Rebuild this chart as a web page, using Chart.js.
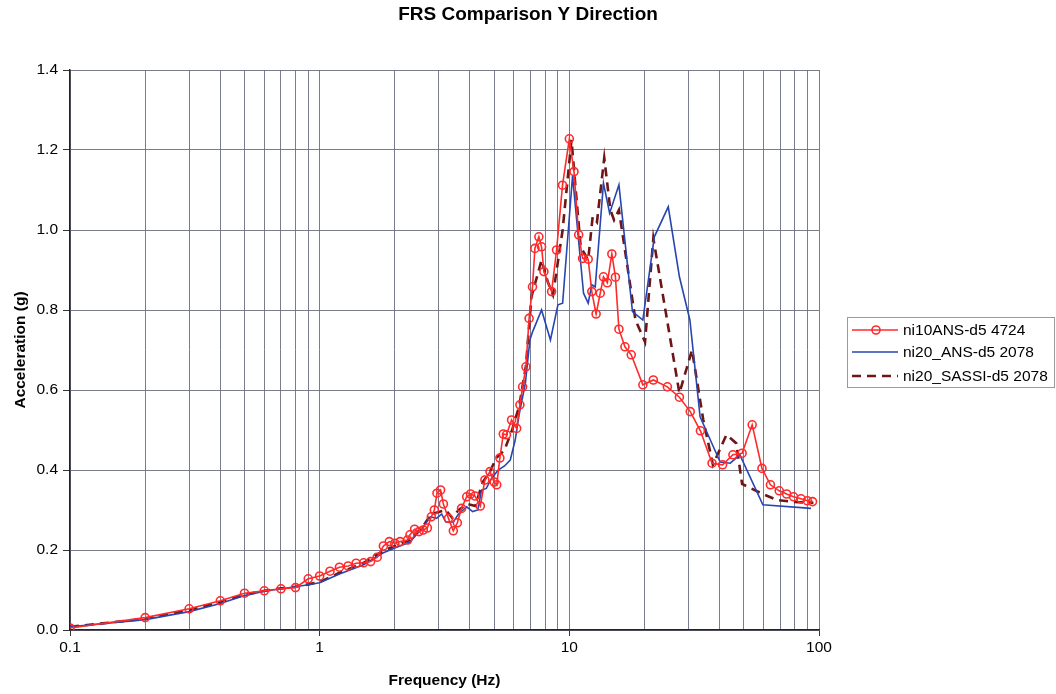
<!DOCTYPE html>
<html>
<head>
<meta charset="utf-8">
<script src="https://cdn.jsdelivr.net/npm/chart.js@4.4.1/dist/chart.umd.min.js"></script>
<style>
  html, body { margin: 0; padding: 0; background: #ffffff; }
  #wrap { width: 1056px; height: 694px; }
</style>
</head>
<body>
<div id="wrap"><canvas id="frs" width="1056" height="694"></canvas></div>
<script>
// Floor response spectra, Y direction: frequency (Hz) vs spectral acceleration (g)
const titleText = 'FRS Comparison Y Direction';
const seriesNames = ['ni10ANS-d5 4724', 'ni20_ANS-d5 2078', 'ni20_SASSI-d5 2078'];

const xTickLabels = ['0.1', '1', '10', '100'];
const yTickLabels = ['0.0', '0.2', '0.4', '0.6', '0.8', '1.0', '1.2', '1.4'];

const ansFreq = [0.1, 0.2, 0.3, 0.4, 0.5, 0.6, 0.7, 0.8, 0.9, 1.0, 1.1, 1.2, 1.3, 1.4, 1.5, 1.6, 1.7, 1.8, 1.9, 2.0,
  2.1, 2.25, 2.3, 2.4, 2.5, 2.6, 2.7, 2.8, 2.88, 2.95, 3.05, 3.13, 3.28, 3.43, 3.56, 3.7, 3.88, 4.02, 4.19, 4.4,
  4.59, 4.81, 5.0, 5.12, 5.27, 5.44, 5.6, 5.87, 6.15, 6.34, 6.5, 6.7, 6.9, 7.12, 7.28, 7.55, 7.74, 7.91, 8.49, 8.89,
  9.39, 10.0, 10.44, 10.9, 11.3, 11.9, 12.3, 12.8, 13.3, 13.7, 14.2, 14.8, 15.3, 15.8, 16.7, 17.7, 19.7, 21.7, 24.7, 27.6,
  30.5, 33.5, 37.3, 41.1, 45.2, 49.2, 54.0, 59.1, 63.9, 69.3, 74.2, 79.1, 84.7, 89.8, 94.2];
const ansAcc = [0.005, 0.031, 0.053, 0.073, 0.092, 0.098, 0.103, 0.106, 0.128, 0.135, 0.147, 0.157, 0.160, 0.167, 0.168, 0.171, 0.182, 0.210, 0.221, 0.217,
  0.221, 0.225, 0.238, 0.252, 0.246, 0.250, 0.255, 0.283, 0.300, 0.342, 0.350, 0.315, 0.279, 0.248, 0.268, 0.304, 0.333, 0.340, 0.335, 0.310,
  0.375, 0.396, 0.370, 0.363, 0.430, 0.490, 0.488, 0.525, 0.504, 0.563, 0.608, 0.658, 0.779, 0.858, 0.954, 0.983, 0.958, 0.896, 0.846, 0.950,
  1.112, 1.228, 1.146, 0.988, 0.929, 0.927, 0.846, 0.790, 0.842, 0.883, 0.868, 0.940, 0.882, 0.752, 0.708, 0.688, 0.613, 0.625, 0.608, 0.582,
  0.546, 0.498, 0.417, 0.413, 0.438, 0.442, 0.513, 0.404, 0.363, 0.348, 0.340, 0.333, 0.328, 0.323, 0.321];

const ans2Freq = [0.1, 0.2, 0.3, 0.4, 0.5, 0.6, 0.7, 0.8, 0.9, 1.0, 1.2, 1.5, 1.8, 2.0, 2.3, 2.6, 2.77, 2.94, 3.08, 3.2,
  3.43, 3.6, 3.88, 4.1, 4.3, 4.45, 4.65, 4.88, 5.19, 5.5, 5.8, 6.07, 6.3, 6.67, 6.95, 7.13, 7.74, 8.4, 9.0, 9.4,
  10.3, 11.4, 11.9, 12.3, 12.7, 13.7, 14.5, 15.8, 17.9, 19.7, 21.9, 24.9, 27.6, 30.4, 33.4, 37.2, 40.2, 44.1, 48.2, 59.6,
  92.9];
const ans2Acc = [0.008, 0.026, 0.046, 0.066, 0.086, 0.097, 0.103, 0.108, 0.113, 0.118, 0.140, 0.163, 0.193, 0.205, 0.220, 0.258, 0.283, 0.279, 0.290, 0.270,
  0.270, 0.290, 0.308, 0.296, 0.300, 0.350, 0.354, 0.379, 0.400, 0.410, 0.425, 0.475, 0.540, 0.618, 0.725, 0.746, 0.800, 0.725, 0.813, 0.817,
  1.135, 0.842, 0.817, 0.863, 0.858, 1.117, 1.042, 1.113, 0.796, 0.775, 0.983, 1.058, 0.883, 0.775, 0.533, 0.467, 0.420, 0.417, 0.438, 0.313,
  0.304];

const sassiFreq = [0.1, 0.2, 0.3, 0.4, 0.5, 0.6, 0.7, 0.8, 0.9, 1.0, 1.2, 1.5, 1.8, 2.0, 2.3, 2.6, 2.8, 3.0, 3.2, 3.4,
  3.6, 3.9, 4.2, 4.5, 4.8, 5.1, 5.5, 5.9, 6.3, 6.7, 7.05, 7.74, 8.2, 8.6, 9.4, 10.2, 11.1, 11.9, 12.4, 12.9,
  13.8, 14.6, 15.1, 15.8, 18.4, 20.1, 21.7, 27.6, 31.0, 34.4, 37.6, 42.6, 46.6, 49.2, 59.6, 67.9, 80.0, 95.0];
const sassiAcc = [0.008, 0.028, 0.050, 0.070, 0.088, 0.098, 0.104, 0.108, 0.114, 0.120, 0.143, 0.168, 0.198, 0.210, 0.225, 0.260, 0.290, 0.295, 0.300, 0.280,
  0.300, 0.315, 0.310, 0.370, 0.395, 0.430, 0.450, 0.500, 0.560, 0.660, 0.833, 0.925, 0.870, 0.838, 1.000, 1.225, 0.958, 0.925, 1.033, 1.020,
  1.180, 1.050, 1.025, 1.050, 0.775, 0.720, 0.979, 0.592, 0.700, 0.525, 0.413, 0.488, 0.467, 0.365, 0.340, 0.325, 0.320, 0.318];

const FONT = '"Liberation Sans", Arial, sans-serif';
const RED = '#ff2a2a';
const BLUE = '#2746b0';
const MAROON = '#6e1616';
const GRID = 'rgba(105,110,130,0.9)';

const toPoints = (xs, ys) => xs.map((x, i) => ({ x: x, y: ys[i] }));
const isDecade = v => Math.abs(Math.log10(v) - Math.round(Math.log10(v))) < 1e-9;

// Title and framed legend drawn on top of the chart
const decorations = {
  id: 'decorations',
  afterDraw(chart) {
    const ctx = chart.ctx;
    ctx.save();
    ctx.fillStyle = '#000';
    ctx.font = 'bold 19px ' + FONT;
    ctx.textAlign = 'center';
    ctx.textBaseline = 'middle';
    ctx.fillText(titleText, 528, 15);

    const bx = 847, by = 317, bw = 208, bh = 70;
    ctx.strokeStyle = '#9a9a9a';
    ctx.lineWidth = 1;
    ctx.strokeRect(bx + 0.5, by + 0.5, bw - 1, bh);
    const rows = [330, 352, 376];
    ctx.font = '15.5px ' + FONT;
    ctx.textAlign = 'left';
    chart.data.datasets.forEach((ds, i) => {
      const y = rows[i];
      ctx.strokeStyle = ds.borderColor;
      ctx.lineWidth = ds.borderWidth;
      ctx.setLineDash(ds.borderDash || []);
      ctx.beginPath();
      ctx.moveTo(852, y);
      ctx.lineTo(898, y);
      ctx.stroke();
      ctx.setLineDash([]);
      if (ds.pointRadius > 0) {
        ctx.lineWidth = ds.pointBorderWidth;
        ctx.beginPath();
        ctx.arc(876, y, ds.pointRadius, 0, Math.PI * 2);
        ctx.stroke();
      }
      ctx.fillStyle = '#000';
      ctx.fillText(ds.label, 903, y + 1);
    });
    ctx.restore();
  }
};

new Chart(document.getElementById('frs'), {
  type: 'line',
  data: {
    datasets: [
      {
        label: seriesNames[0],
        data: toPoints(ansFreq, ansAcc),
        borderColor: RED,
        borderWidth: 1.6,
        pointRadius: 4,
        pointBorderWidth: 1.6,
        pointBorderColor: RED,
        pointBackgroundColor: 'rgba(0,0,0,0)',
        tension: 0
      },
      {
        label: seriesNames[1],
        data: toPoints(ans2Freq, ans2Acc),
        borderColor: BLUE,
        borderWidth: 1.6,
        pointRadius: 0,
        tension: 0
      },
      {
        label: seriesNames[2],
        data: toPoints(sassiFreq, sassiAcc),
        borderColor: MAROON,
        borderWidth: 2.6,
        borderDash: [9, 6],
        pointRadius: 0,
        tension: 0
      }
    ]
  },
  options: {
    responsive: false,
    animation: false,
    layout: { padding: { left: 0, right: 237, top: 70, bottom: 0 } },
    plugins: {
      legend: { display: false },
      title: { display: false },
      tooltip: { enabled: false }
    },
    scales: {
      x: {
        type: 'logarithmic',
        min: 0.1,
        max: 100,
        afterBuildTicks(scale) {
          const vals = [];
          [0.1, 1, 10].forEach(d => { for (let k = 1; k <= 9; k++) vals.push(+(k * d).toPrecision(6)); });
          vals.push(100);
          scale.ticks = vals.map(v => ({ value: v }));
        },
        afterFit(scale) { scale.height = 64; },
        ticks: {
          autoSkip: false,
          maxRotation: 0,
          padding: 2,
          color: '#000',
          font: { family: FONT, size: 15.5 },
          callback: v => isDecade(v) ? xTickLabels[Math.round(Math.log10(v)) + 1] : ''
        },
        grid: {
          color: GRID,
          lineWidth: 1,
          tickLength: 6,
          tickColor: ctx => (ctx.tick && isDecade(ctx.tick.value)) ? '#333' : 'rgba(0,0,0,0)'
        },
        border: { color: '#222', width: 1.5 },
        title: {
          display: true,
          text: 'Frequency (Hz)',
          color: '#000',
          font: { family: FONT, size: 15.5, weight: 'bold' },
          padding: { top: 0, bottom: 4 }
        }
      },
      y: {
        type: 'linear',
        min: 0,
        max: 1.4,
        afterFit(scale) { scale.width = 70; },
        ticks: {
          stepSize: 0.2,
          padding: 5,
          color: '#000',
          font: { family: FONT, size: 15.5 },
          callback: (v) => yTickLabels[Math.round(v / 0.2)]
        },
        grid: { color: GRID, lineWidth: 1, tickLength: 7, tickColor: '#333' },
        border: { color: '#222', width: 1.5 },
        title: {
          display: true,
          text: 'Acceleration (g)',
          color: '#000',
          font: { family: FONT, size: 15.5, weight: 'bold' },
          padding: { top: 11, bottom: 0 }
        }
      }
    }
  },
  plugins: [decorations]
});
</script>
</body>
</html>
